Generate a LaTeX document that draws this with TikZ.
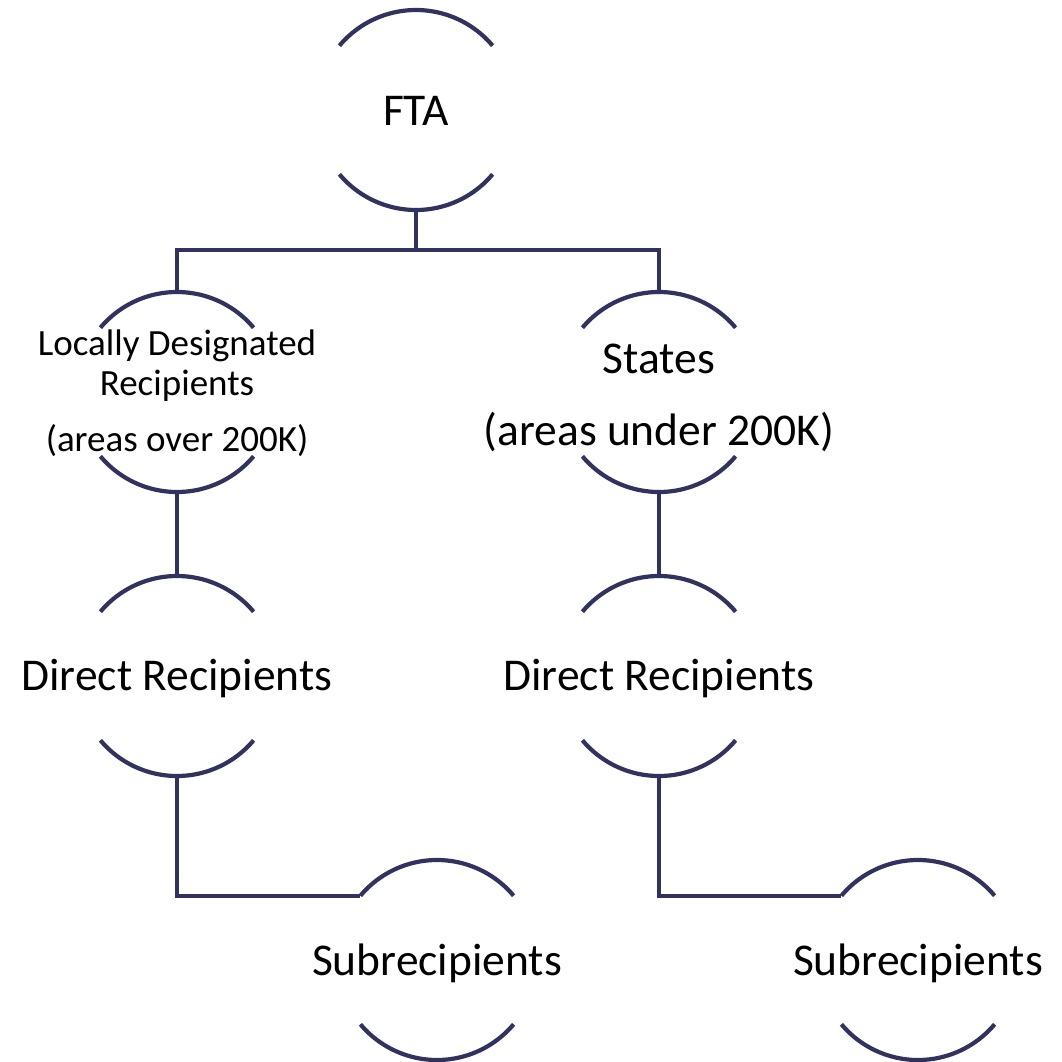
\documentclass[tikz,border=0pt]{standalone}
\usepackage{fontspec}
\setmainfont{Carlito}
\definecolor{navy}{RGB}{50,50,95}
\begin{document}
\begin{tikzpicture}[x=1pt,y=1pt,
  ring/.style={circle,inner sep=0pt,outer sep=0pt,minimum size=200pt},
  bigtxt/.style={align=center,inner sep=0pt,font=\fontsize{45.5}{54}\selectfont},
  smalltxt/.style={align=center,inner sep=0pt,font=\fontsize{37}{40}\selectfont},
  ln/.style={draw=navy,line width=4.2pt},
]
\useasboundingbox (0,0) rectangle (1061,-1062);
\newcommand\brackets[1]{%
  \draw[ln] (#1.140) arc[start angle=140,end angle=40,radius=100];
  \draw[ln] (#1.-140) arc[start angle=-140,end angle=-40,radius=100];}
% rings
\node[ring] (fta) at (416,-110) {};
\node[ring] (ldr) at (177,-392) {};
\node[ring] (st) at (659,-392) {};
\node[ring] (dr1) at (177,-676) {};
\node[ring] (dr2) at (659,-676) {};
\node[ring] (sub1) at (437,-960) {};
\node[ring] (sub2) at (918,-960) {};
\brackets{fta}\brackets{ldr}\brackets{st}\brackets{dr1}\brackets{dr2}\brackets{sub1}\brackets{sub2}
% texts
\node[bigtxt] (tfta) at ([yshift=-1]fta.center) {FTA};
\node[smalltxt] (tldr) at ([yshift=-1]ldr.center) {Locally Designated\\Recipients\\[16pt](areas over 200K)};
\node[bigtxt] (tst) at ([yshift=-6]st.center) {States\\[18pt](areas under 200K)};
\node[bigtxt] (tdr1) at ([yshift=-3]dr1.center) {Direct Recipients};
\node[bigtxt] (tdr2) at ([yshift=-3]dr2.center) {Direct Recipients};
\node[bigtxt] (tsub1) at ([yshift=-3]sub1.center) {Subrecipients};
\node[bigtxt] (tsub2) at ([yshift=-3]sub2.center) {Subrecipients};
% connectors
\draw[ln] (fta.south) -- ++(0,-40) coordinate (bar) -| (ldr.north);
\draw[ln] (bar) -| (st.north);
\draw[ln] (ldr.south) -- (dr1.north);
\draw[ln] (st.south) -- (dr2.north);
\draw[ln] (dr1.south) |- (sub1.140);
\draw[ln] (dr2.south) |- (sub2.140);
\end{tikzpicture}
\end{document}
